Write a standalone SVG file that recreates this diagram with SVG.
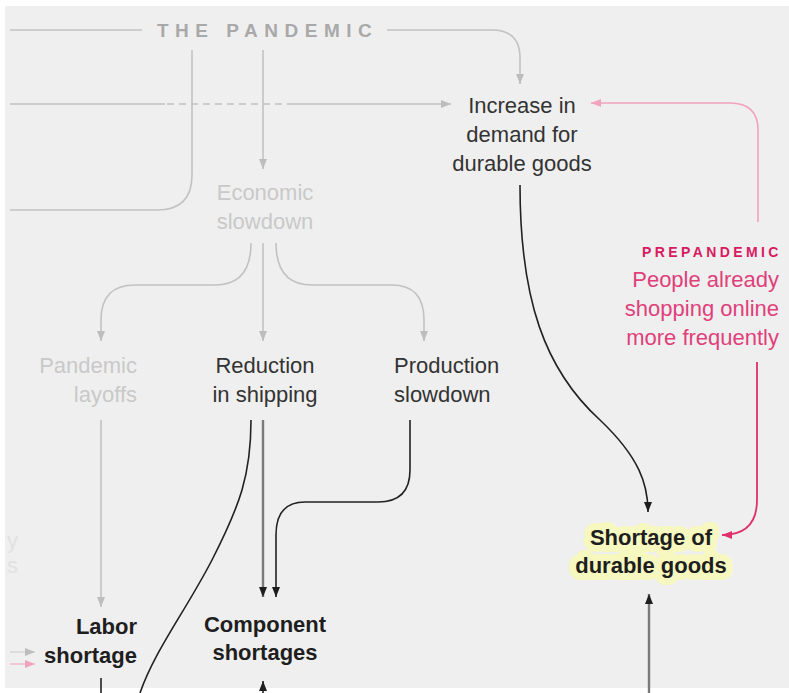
<svg xmlns="http://www.w3.org/2000/svg" width="789" height="693" viewBox="0 0 789 693">
<style>
  text { font-family: "Liberation Sans", Arial, sans-serif; font-size: 22px; }
  .faint { fill: #c9c9c9; }
  .dark { fill: #333333; }
  .bold { font-weight: bold; fill: #1e1e1e; }
  .pink { fill: #e03f7a; }
  .lg { fill: none; stroke: #c2c2c2; stroke-width: 1.6; }
  .blk { fill: none; stroke: #222222; stroke-width: 1.6; }
  .mid { fill: none; stroke: #7a7a7a; stroke-width: 2.4; }
  .pk { fill: none; stroke: #e0306a; stroke-width: 1.8; }
  .pkl { fill: none; stroke: #f2a3bc; stroke-width: 1.6; }
</style>
<defs>
  <marker id="ag" markerUnits="userSpaceOnUse" markerWidth="10" markerHeight="10" refX="10" refY="4" orient="auto">
    <path d="M0,0 L10,4 L0,8 z" fill="#bdbdbd"/>
  </marker>
  <marker id="ak" markerUnits="userSpaceOnUse" markerWidth="10" markerHeight="10" refX="10" refY="4" orient="auto">
    <path d="M0,0 L10,4 L0,8 z" fill="#1e1e1e"/>
  </marker>
  <marker id="ap" markerUnits="userSpaceOnUse" markerWidth="10" markerHeight="10" refX="10" refY="4" orient="auto">
    <path d="M0,0 L10,4 L0,8 z" fill="#e0306a"/>
  </marker>
  <marker id="apl" markerUnits="userSpaceOnUse" markerWidth="10" markerHeight="10" refX="10" refY="4" orient="auto">
    <path d="M0,0 L10,4 L0,8 z" fill="#f2a3bc"/>
  </marker>
</defs>
<rect x="0" y="0" width="789" height="693" fill="#ffffff"/>
<rect x="5" y="6" width="784" height="682" fill="#efefef"/>

<g id="connectors">
  <path class="lg" d="M10,30 H142"/>
  <path class="lg" d="M387,30 H492 Q520,30 520,58 V84" marker-end="url(#ag)"/>
  <path class="lg" d="M192,50 V175 Q192,210 157,210 H10"/>
  <path class="lg" d="M263,50 V169" marker-end="url(#ag)"/>
  <path class="lg" d="M10,104 H165"/>
  <path class="lg" d="M167,104 H285" stroke-dasharray="7 5"/>
  <path class="lg" d="M287,104 H451" marker-end="url(#ag)"/>
  <path class="lg" d="M251,243 Q251,285 215,285 H135 Q101,285 101,320 V341" marker-end="url(#ag)"/>
  <path class="lg" d="M263,243 V341" marker-end="url(#ag)"/>
  <path class="lg" d="M276,243 Q276,285 312,285 H392 Q424,285 424,320 V341" marker-end="url(#ag)"/>
  <path class="lg" d="M101,420 V607" marker-end="url(#ag)"/>
  <path fill="none" stroke="#d4d4d4" stroke-width="1.4" d="M10,652 H35" marker-end="url(#ag)"/>
  <path fill="none" stroke="#f3b8ca" stroke-width="1.4" d="M10,664 H35" marker-end="url(#apl)"/>
  <path class="mid" d="M263,420 V597" marker-end="url(#ak)"/>
  <path class="blk" d="M410,420 V470 Q410,502 378,502 H305 Q276,502 276,535 V597" marker-end="url(#ak)"/>
  <path class="blk" d="M251,420 C251,475 240,505 212,560 C185,612 155,650 140,693"/>
  <path class="blk" d="M101,678 V693"/>
  <path class="blk" d="M263,693 V681" marker-end="url(#ak)"/>
  <path class="blk" d="M520,185 C520,300 545,370 600,420 C640,458 648,485 648,512" marker-end="url(#ak)"/>
  <path class="pkl" d="M758,222 V130 Q758,103 730,103 H591" marker-end="url(#apl)"/>
  <path class="pk" d="M757,362 V500 Q757,535 722,535" marker-end="url(#ap)"/>
  <path class="mid" d="M649,693 V594" marker-end="url(#ak)"/>
</g>

<g id="pandemic">
  <text x="157" y="37" font-weight="bold" letter-spacing="6.5" fill="#a9a9a9" style="font-size:19px">THE PANDEMIC</text>
</g>
<g id="demand">
  <text class="dark" text-anchor="middle" x="522" y="113">Increase in</text>
  <text class="dark" text-anchor="middle" x="522" y="142">demand for</text>
  <text class="dark" text-anchor="middle" x="522" y="171">durable goods</text>
</g>
<g id="economic">
  <text class="faint" text-anchor="middle" x="265" y="200">Economic</text>
  <text class="faint" text-anchor="middle" x="265" y="229">slowdown</text>
</g>
<g id="layoffs">
  <text class="faint" text-anchor="end" x="137" y="373">Pandemic</text>
  <text class="faint" text-anchor="end" x="137" y="402">layoffs</text>
</g>
<g id="shipping">
  <text class="dark" text-anchor="middle" x="265" y="373">Reduction</text>
  <text class="dark" text-anchor="middle" x="265" y="402">in shipping</text>
</g>
<g id="production">
  <text class="dark" x="394" y="373">Production</text>
  <text class="dark" x="394" y="402">slowdown</text>
</g>
<g id="clipped">
  <text fill="#e2e2e2" x="7" y="548">y</text>
  <text fill="#e2e2e2" x="7" y="573">s</text>
</g>
<g id="labor">
  <text class="bold" text-anchor="end" x="137" y="634">Labor</text>
  <text class="bold" text-anchor="end" x="137" y="663">shortage</text>
</g>
<g id="component">
  <text class="bold" text-anchor="middle" x="265" y="632">Component</text>
  <text class="bold" text-anchor="middle" x="265" y="660">shortages</text>
</g>
<g id="prepandemic">
  <text x="642" y="257" font-weight="bold" letter-spacing="3.4" fill="#d81b60" style="font-size:14px">PREPANDEMIC</text>
  <text class="pink" text-anchor="end" x="779" y="287">People already</text>
  <text class="pink" text-anchor="end" x="779" y="316">shopping online</text>
  <text class="pink" text-anchor="end" x="779" y="345">more frequently</text>
</g>
<g id="shortage">
  <g font-weight="bold" text-anchor="middle" stroke="#f6f8c0" stroke-width="14" stroke-linejoin="round" paint-order="stroke" fill="#1e1e1e">
    <text x="651" y="545">Shortage of</text>
    <text x="651" y="573">durable goods</text>
  </g>
</g>
</svg>
